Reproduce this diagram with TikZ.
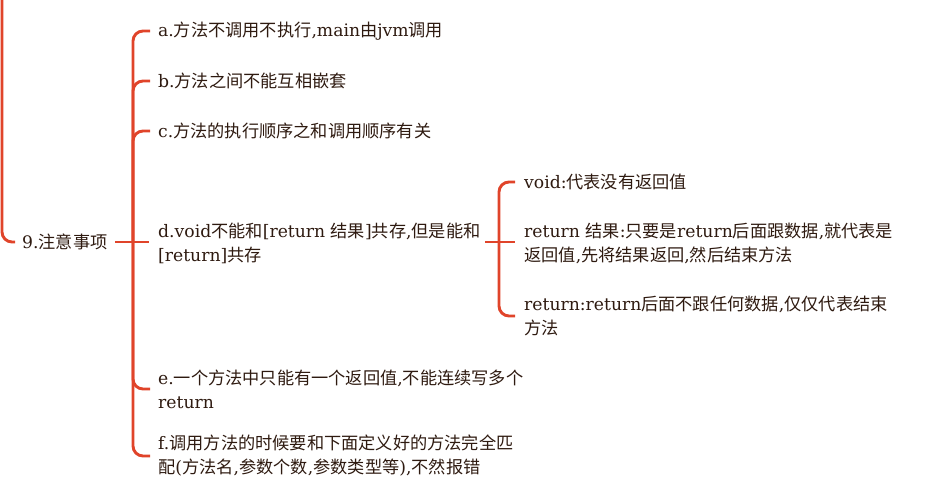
\documentclass[tikz,border=0pt]{standalone}
\usepackage{fontspec}
\setmainfont{DejaVu Serif}
\newfontfamily\cjk{Noto Sans CJK SC}
\newcommand\zh[1]{{\cjk #1}}
\definecolor{txt}{HTML}{2E1A10}
\definecolor{ln}{HTML}{E0442A}
\begin{document}
\begin{tikzpicture}[x=1pt,y=-1pt,
  item/.style={anchor=west,inner sep=0pt,align=left,text=txt,font=\fontsize{17.2}{24}\selectfont},
  conn/.style={draw=ln,line width=2.9pt,rounded corners=10pt}]
\useasboundingbox (0,0) rectangle (926,488);
\node[item] (root) at (22,242) {9.\zh{注意事项}};
\node[item] (a) at (158,31) {a.\zh{方法不调用不执行},main\zh{由}jvm\zh{调用}};
\node[item] (b) at (158,81) {b.\zh{方法之间不能互相嵌套}};
\node[item] (c) at (158,131) {c.\zh{方法的执行顺序之和调用顺序有关}};
\node[item] (d) at (158,243) {d.void\zh{不能和}{[}return \zh{结果}{]}\zh{共存},\zh{但是能和}\\{[}return{]}\zh{共存}};
\node[item] (e) at (158,389) {e.\zh{一个方法中只能有一个返回值},\zh{不能连续写多个}\\return};
\node[item] (f) at (158,456) {f.\zh{调用方法的时候要和下面定义好的方法完全匹}\\\zh{配}(\zh{方法名},\zh{参数个数},\zh{参数类型等}),\zh{不然报错}};
\node[item] (d1) at (524,182) {void:\zh{代表没有返回值}};
\node[item] (d2) at (524,243) {return \zh{结果}:\zh{只要是}return\zh{后面跟数据},\zh{就代表是}\\\zh{返回值},\zh{先将结果返回},\zh{然后结束方法}};
\node[item] (d3) at (524,316) {return:return\zh{后面不跟任何数据},\zh{仅仅代表结束}\\\zh{方法}};
% left incoming branch
\coordinate (top) at (2,-10);
\path[conn] (top) |- (15,242);
% root trunk
\coordinate (tr) at (133,242);
\path[conn] (115,242) -- (149,242);
\foreach \n in {a,b,c,e,f}{
  \path[conn] (tr) |- ([xshift=-8pt]\n.west);
}
% sub trunk
\coordinate (st) at (499,242);
\path[conn] (485,242) -- (515,242);
\foreach \n in {d1,d3}{
  \path[conn] (st) |- ([xshift=-9pt]\n.west);
}
\end{tikzpicture}
\end{document}
